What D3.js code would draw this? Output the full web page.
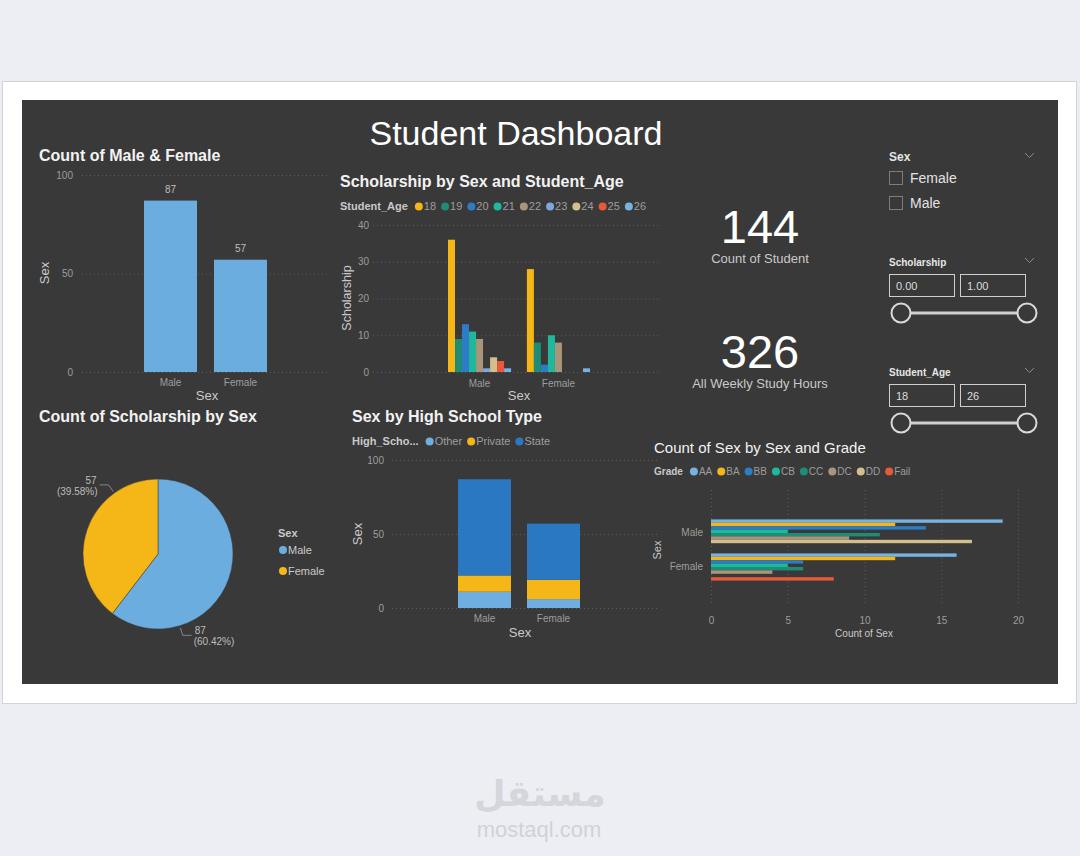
<!DOCTYPE html>
<html>
<head>
<meta charset="utf-8">
<script src="https://cdn.jsdelivr.net/npm/d3@7"></script>
<style>
  body { margin: 0; background: #eceef3; }
  svg { display: block; font-family: "Liberation Sans", Arial, sans-serif; }
</style>
</head>
<body>
<svg id="dash" width="1080" height="856"></svg>
<script>
// data
const sexes = ['Male', 'Female'];
const sexCounts = [87, 57];

const ages = ['18', '19', '20', '21', '22', '23', '24', '25', '26'];
const scholarshipMale   = [36, 9, 13, 11, 9, 1, 4, 3, 1];
const scholarshipFemale = [28, 8, 2, 10, 8, 0, 0, 0, 1];

const schoolTypes  = ['Other', 'Private', 'State'];
const schoolMale   = [11, 11, 65];
const schoolFemale = [6, 13, 38];

const grades      = ['AA', 'BA', 'BB', 'CB', 'CC', 'DC', 'DD', 'Fail'];
const gradeMale   = [19, 12, 14, 5, 11, 9, 17, 0];
const gradeFemale = [16, 12, 6, 5, 6, 4, 0, 8];

const kpiValues = ['144', '326'];
const kpiLabels = ['Count of Student', 'All Weekly Study Hours'];

const sexOptions = ['Female', 'Male'];
const scholarshipRange = ['0.00', '1.00'];
const ageRange = ['18', '26'];

// colours
const ageColor = d3.scaleOrdinal().domain(ages)
    .range(['#F5B618', '#1E8C76', '#2C7DC6', '#20B89C', '#A9957A', '#7DA7DB', '#D3BF8D', '#E8583A', '#76B2E2']);
const gradeColor = d3.scaleOrdinal().domain(grades)
    .range(['#76B2E2', '#F5B618', '#2C7DC6', '#20B89C', '#1E8C76', '#A9957A', '#D3BF8D', '#E8583A']);
const schoolColor = d3.scaleOrdinal().domain(schoolTypes).range(['#6FAEE0', '#F5B618', '#2A78C2']);
const sexColor = d3.scaleOrdinal().domain(sexes).range(['#6CADE0', '#F5B618']);

const tickCol  = '#9d9d9d';
const labelCol = '#c9c9c9';
const gridCol  = '#5c5c5c';

const svg = d3.select('#dash');

// page, card and dark panel
svg.append('rect').attr('width', 1080).attr('height', 856).attr('fill', '#eceef3');
svg.append('rect').attr('x', 2.5).attr('y', 81.5).attr('width', 1074).attr('height', 622)
    .attr('fill', '#ffffff').attr('stroke', '#d2d3d6');
svg.append('rect').attr('x', 22).attr('y', 100).attr('width', 1036).attr('height', 584).attr('fill', '#393939');

svg.append('text').attr('x', 516).attr('y', 145).attr('text-anchor', 'middle')
    .attr('font-size', 34).attr('fill', '#ffffff').text('Student Dashboard');

function title(x, y, txt, bold = true, size = 16) {
    svg.append('text').attr('x', x).attr('y', y).attr('font-size', size)
        .attr('font-weight', bold ? 'bold' : 'normal').attr('fill', '#f2f2f2').text(txt);
}

function hGrid(scale, ticks, x1, x2) {
    svg.append('g').selectAll('line').data(ticks).join('line')
        .attr('x1', x1).attr('x2', x2)
        .attr('y1', d => scale(d) + 0.5).attr('y2', d => scale(d) + 0.5)
        .attr('stroke', gridCol).attr('stroke-dasharray', '1,3');
}

function styleAxis(g) {
    g.select('.domain').remove();
    g.selectAll('.tick line').remove();
    g.selectAll('text').attr('fill', tickCol).attr('font-size', 10)
        .attr('font-family', '"Liberation Sans", Arial, sans-serif');
}

function axisTitle(x, y, txt, rotate = false, size = 13) {
    const t = svg.append('text').attr('font-size', size).attr('fill', labelCol)
        .attr('text-anchor', 'middle').text(txt);
    if (rotate) t.attr('transform', `translate(${x},${y}) rotate(-90)`);
    else t.attr('x', x).attr('y', y);
}

function legend(x, y, name, keys, color, size = 10.5) {
    const g = svg.append('g').attr('transform', `translate(${x},${y})`);
    const head = g.append('text').attr('font-size', size).attr('font-weight', 'bold')
        .attr('fill', labelCol).text(name);
    let cx = head.node().getComputedTextLength() + 7;
    keys.forEach(k => {
        g.append('circle').attr('cx', cx + 4).attr('cy', -3.5).attr('r', 4).attr('fill', color(k));
        const t = g.append('text').attr('x', cx + 9).attr('font-size', size).attr('fill', tickCol).text(k);
        cx += 9 + t.node().getComputedTextLength() + 5;
    });
}

// ---- Count of Male & Female
function chart1() {
    title(39, 161, 'Count of Male & Female');
    const x = d3.scaleBand().domain(sexes).range([127, 284]).paddingInner(0.243).paddingOuter(0.243);
    const y = d3.scaleLinear().domain([0, 100]).range([372, 175]);
    hGrid(y, [0, 50, 100], 82, 330);

    svg.append('g').attr('transform', 'translate(76,0)')
        .call(d3.axisLeft(y).tickValues([0, 50, 100]).tickSize(0)).call(styleAxis);
    svg.append('g').attr('transform', 'translate(0,376)')
        .call(d3.axisBottom(x).tickSize(0)).call(styleAxis);

    svg.append('g').selectAll('rect').data(sexCounts).join('rect')
        .attr('x', (d, i) => x(sexes[i])).attr('width', x.bandwidth())
        .attr('y', d => y(d)).attr('height', d => y(0) - y(d))
        .attr('fill', sexColor('Male'));
    svg.append('g').selectAll('text').data(sexCounts).join('text')
        .attr('x', (d, i) => x(sexes[i]) + x.bandwidth() / 2).attr('y', d => y(d) - 8)
        .attr('text-anchor', 'middle').attr('font-size', 10).attr('fill', '#bdbdbd').text(d => d);

    axisTitle(207, 400, 'Sex');
    axisTitle(49, 273, 'Sex', true);
}

// ---- Scholarship by Sex and Student_Age
function chart2() {
    title(340, 187, 'Scholarship by Sex and Student_Age');
    legend(340, 210, 'Student_Age', ages, ageColor, 11);

    const x0 = d3.scaleBand().domain(sexes).range([377, 661]).paddingInner(0.2).paddingOuter(0.9);
    const x1 = d3.scaleBand().domain(ages).range([0, x0.bandwidth()]);
    const y  = d3.scaleLinear().domain([0, 40]).range([372, 225]);
    hGrid(y, y.ticks(4), 373, 660);

    svg.append('g').attr('transform', 'translate(372,0)')
        .call(d3.axisLeft(y).ticks(4).tickSize(0)).call(styleAxis);
    svg.append('g').attr('transform', 'translate(0,377)')
        .call(d3.axisBottom(x0).tickSize(0)).call(styleAxis);

    const rows = [scholarshipMale, scholarshipFemale];
    svg.append('g').selectAll('g').data(rows).join('g')
        .attr('transform', (d, i) => `translate(${x0(sexes[i])},0)`)
        .selectAll('rect').data(d => d.map((v, j) => ({ age: ages[j], v })).filter(e => e.v > 0))
        .join('rect')
        .attr('x', d => x1(d.age)).attr('width', x1.bandwidth())
        .attr('y', d => y(d.v)).attr('height', d => y(0) - y(d.v))
        .attr('fill', d => ageColor(d.age));

    axisTitle(519, 400, 'Sex');
    axisTitle(351, 298, 'Scholarship', true, 12.5);
}

// ---- KPI cards
function kpis() {
    const ys = [243, 368];
    kpiValues.forEach((v, i) => {
        svg.append('text').attr('x', 760).attr('y', ys[i]).attr('text-anchor', 'middle')
            .attr('font-size', 47).attr('fill', '#ffffff').text(v);
        svg.append('text').attr('x', 760).attr('y', ys[i] + 20).attr('text-anchor', 'middle')
            .attr('font-size', 13).attr('fill', labelCol).text(kpiLabels[i]);
    });
}

// ---- slicers
function chevron(y) {
    svg.append('path').attr('d', `M1025,${y - 3} L1029.5,${y + 1.5} L1034,${y - 3}`)
        .attr('fill', 'none').attr('stroke', '#8a8a8a').attr('stroke-width', 1);
}

function rangeSlicer(y, name, vals) {
    svg.append('text').attr('x', 889).attr('y', y).attr('font-size', 10)
        .attr('font-weight', 'bold').attr('fill', '#e6e6e6').text(name);
    chevron(y - 5);
    vals.forEach((v, i) => {
        const bx = 889 + i * 71;
        svg.append('rect').attr('x', bx + 0.5).attr('y', y + 8.5).attr('width', 65).attr('height', 22)
            .attr('fill', 'none').attr('stroke', '#cfcfcf');
        svg.append('text').attr('x', bx + 7).attr('y', y + 23.5).attr('font-size', 11)
            .attr('fill', '#dcdcdc').text(v);
    });
    const sy = y + 47;
    svg.append('line').attr('x1', 901).attr('x2', 1027).attr('y1', sy).attr('y2', sy)
        .attr('stroke', '#cfcfcf').attr('stroke-width', 3);
    [901, 1027].forEach(cx => {
        svg.append('circle').attr('cx', cx).attr('cy', sy).attr('r', 9.5)
            .attr('fill', '#393939').attr('stroke', '#dadada').attr('stroke-width', 2);
    });
}

function slicers() {
    svg.append('text').attr('x', 889).attr('y', 161).attr('font-size', 12)
        .attr('font-weight', 'bold').attr('fill', '#e6e6e6').text('Sex');
    chevron(156);
    sexOptions.forEach((s, i) => {
        const y = 171 + i * 25;
        svg.append('rect').attr('x', 889.5).attr('y', y + 0.5).attr('width', 13).attr('height', 13)
            .attr('fill', 'none').attr('stroke', '#7d7d7d');
        svg.append('text').attr('x', 910).attr('y', y + 12).attr('font-size', 14)
            .attr('fill', '#e2e2e2').text(s);
    });
    rangeSlicer(266, 'Scholarship', scholarshipRange);
    rangeSlicer(376, 'Student_Age', ageRange);
}

// ---- Count of Scholarship by Sex (pie)
function chart3() {
    title(39, 422, 'Count of Scholarship by Sex');
    const cx = 158, cy = 554, r = 75;
    const pie = d3.pie().sort(null)(sexCounts);
    const arc = d3.arc().innerRadius(0).outerRadius(r);
    const total = d3.sum(sexCounts);

    const g = svg.append('g').attr('transform', `translate(${cx},${cy})`);
    g.selectAll('path').data(pie).join('path')
        .attr('d', arc).attr('fill', (d, i) => sexColor(sexes[i]))
        .attr('stroke', '#393939').attr('stroke-width', 0.5);

    pie.forEach((p, i) => {
        const a = p.startAngle + 0.75 * (p.endAngle - p.startAngle);
        const pt = rr => [rr * Math.sin(a), -rr * Math.cos(a)];
        const p1 = pt(r + 2), p2 = pt(r + 10);
        const side = p2[0] < 0 ? -1 : 1;
        const p3 = [p2[0] + side * 9, p2[1]];
        g.append('polyline').attr('points', [p1, p2, p3].map(q => q.join(',')).join(' '))
            .attr('fill', 'none').attr('stroke', '#9a9a9a').attr('stroke-width', 0.8);
        const t = g.append('text').attr('font-size', 10).attr('fill', '#bdbdbd')
            .attr('text-anchor', side < 0 ? 'end' : 'start');
        const tx = p3[0] + side * 2;
        t.append('tspan').attr('x', side < 0 ? tx - 1 : tx + 1).attr('y', p3[1] - 1).text(sexCounts[i]);
        t.append('tspan').attr('x', tx).attr('y', p3[1] + 10)
            .text(`(${(sexCounts[i] / total * 100).toFixed(2)}%)`);
    });

    svg.append('text').attr('x', 278).attr('y', 537).attr('font-size', 11)
        .attr('font-weight', 'bold').attr('fill', labelCol).text('Sex');
    sexes.forEach((s, i) => {
        svg.append('circle').attr('cx', 283).attr('cy', 550 + i * 21).attr('r', 4).attr('fill', sexColor(s));
        svg.append('text').attr('x', 288).attr('y', 554 + i * 21).attr('font-size', 11)
            .attr('fill', labelCol).text(s);
    });
}

// ---- Sex by High School Type (stacked)
function chart4() {
    title(352, 422, 'Sex by High School Type');
    legend(352, 445, 'High_Scho...', schoolTypes, schoolColor, 11);

    const x = d3.scaleBand().domain(sexes).range([389, 649]).paddingInner(0.232).paddingOuter(1.0);
    const y = d3.scaleLinear().domain([0, 100]).range([608, 460]);
    hGrid(y, [0, 50, 100], 392, 660);

    svg.append('g').attr('transform', 'translate(387,0)')
        .call(d3.axisLeft(y).tickValues([0, 50, 100]).tickSize(0)).call(styleAxis);
    svg.append('g').attr('transform', 'translate(0,612)')
        .call(d3.axisBottom(x).tickSize(0)).call(styleAxis);

    const table = sexes.map((s, i) => {
        const row = { sex: s };
        const vals = i === 0 ? schoolMale : schoolFemale;
        schoolTypes.forEach((k, j) => row[k] = vals[j]);
        return row;
    });
    const stack = d3.stack().keys(schoolTypes)(table);
    svg.append('g').selectAll('g').data(stack).join('g')
        .attr('fill', d => schoolColor(d.key))
        .selectAll('rect').data(d => d).join('rect')
        .attr('x', d => x(d.data.sex)).attr('width', x.bandwidth())
        .attr('y', d => y(d[1])).attr('height', d => y(d[0]) - y(d[1]));

    axisTitle(520, 637, 'Sex');
    axisTitle(362, 534, 'Sex', true);
}

// ---- Count of Sex by Sex and Grade (horizontal clustered)
function chart5() {
    title(654, 453, 'Count of Sex by Sex and Grade', false, 15);
    legend(654, 475, 'Grade', grades, gradeColor, 10);

    const x  = d3.scaleLinear().domain([0, 20]).range([711, 1018]);
    const y0 = d3.scaleBand().domain(sexes).range([499, 601]).paddingInner(0.2).paddingOuter(0.6);
    const y1 = d3.scaleBand().domain(grades).range([0, y0.bandwidth()]);

    svg.append('g').selectAll('line').data(x.ticks(4)).join('line')
        .attr('x1', d => x(d) + 0.5).attr('x2', d => x(d) + 0.5)
        .attr('y1', 490).attr('y2', 606)
        .attr('stroke', gridCol).attr('stroke-dasharray', '1,3');

    svg.append('g').attr('transform', 'translate(0,614)')
        .call(d3.axisBottom(x).ticks(4).tickSize(0)).call(styleAxis);
    svg.append('g').attr('transform', 'translate(706,0)')
        .call(d3.axisLeft(y0).tickSize(0)).call(styleAxis);

    const rows = [gradeMale, gradeFemale];
    svg.append('g').selectAll('g').data(rows).join('g')
        .attr('transform', (d, i) => `translate(0,${y0(sexes[i])})`)
        .selectAll('rect').data(d => d.map((v, j) => ({ g: grades[j], v })).filter(e => e.v > 0))
        .join('rect')
        .attr('x', x(0)).attr('width', d => x(d.v) - x(0))
        .attr('y', d => y1(d.g)).attr('height', y1.bandwidth())
        .attr('fill', d => gradeColor(d.g));

    axisTitle(864, 637, 'Count of Sex', false, 10);
    axisTitle(661, 550, 'Sex', true, 11);
}

// ---- watermark
function watermark() {
    svg.append('text').attr('x', 540).attr('y', 806).attr('text-anchor', 'middle')
        .attr('font-family', '"DejaVu Sans", sans-serif').attr('font-weight', 'bold')
        .attr('font-size', 36).attr('fill', '#d4d6db').text('مستقل');
    svg.append('text').attr('x', 539).attr('y', 837).attr('text-anchor', 'middle')
        .attr('font-size', 22).attr('fill', '#d0d2d7').text('mostaql.com');
}

chart1();
chart2();
kpis();
slicers();
chart3();
chart4();
chart5();
watermark();
</script>
</body>
</html>
